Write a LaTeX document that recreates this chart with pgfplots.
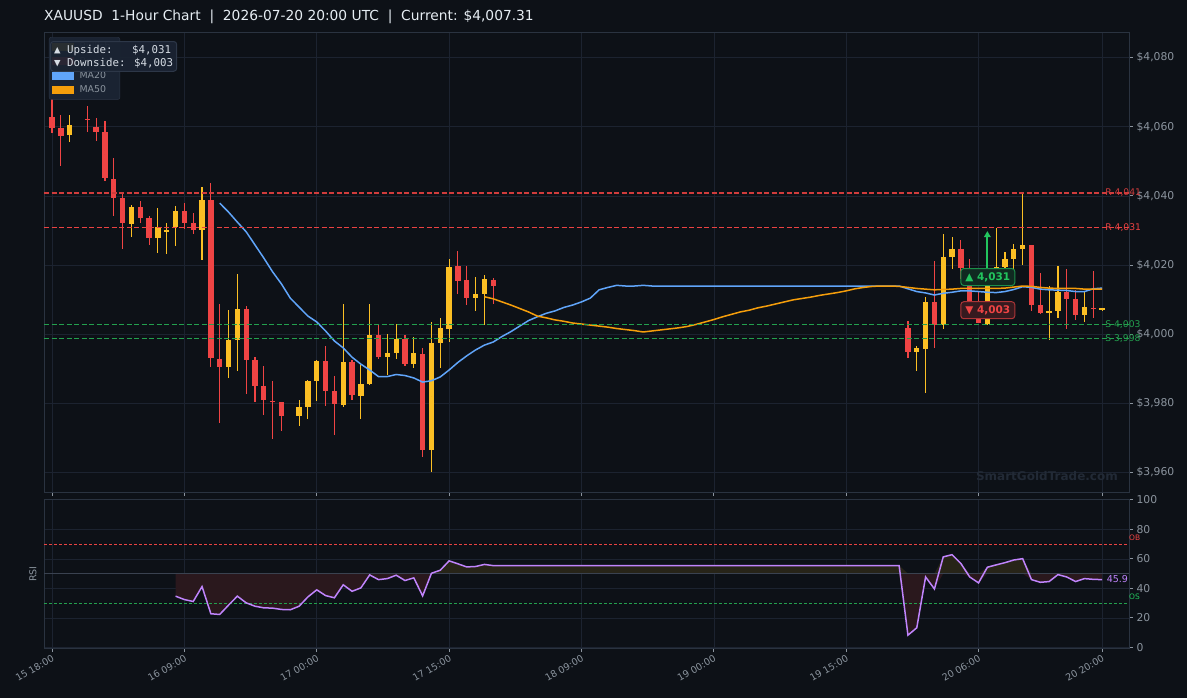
\documentclass[border=0pt]{standalone}
\usepackage{pgfplots}
\pgfplotsset{compat=1.18}
\usepackage{pgfplotstable}
\usetikzlibrary{arrows.meta}
\usepackage{fontspec}
\setmainfont{DejaVu Sans}
\newfontfamily\monofont{DejaVu Sans Mono}
\newcommand{\fs}[1]{\fontsize{#1bp}{#1bp}\selectfont}
\definecolor{bg}{HTML}{0D1117}
\definecolor{gridc}{HTML}{1C2330}
\definecolor{frame}{HTML}{2A3340}
\definecolor{midc}{HTML}{3A4250}
\definecolor{tickc}{HTML}{8B949E}
\definecolor{titlec}{HTML}{E6EDF3}
\definecolor{boxtext}{HTML}{D6DCE4}
\definecolor{bullc}{HTML}{FBBF24}
\definecolor{bearc}{HTML}{EF4444}
\definecolor{ma20c}{HTML}{60A5FA}
\definecolor{ma50c}{HTML}{F59E0B}
\definecolor{rsic}{HTML}{C084FC}
\definecolor{greenc}{HTML}{22C55E}
\definecolor{rline1}{HTML}{D03C3C}
\definecolor{rline2}{HTML}{EB4242}
\definecolor{sline}{HTML}{23A04E}
\definecolor{legbg}{HTML}{1A2332}
\definecolor{legbd}{HTML}{2D3748}
\definecolor{wmark}{HTML}{222A36}
\colorlet{redfill}{bearc!13!bg}
\colorlet{yelfill}{bullc!11!bg}

\pgfplotstableread{
i o h l c
2 4057.7 4063.4 4055.7 4060.5
9 4031.9 4037.4 4028.2 4036.9
12 4027.9 4036.5 4023.6 4031.1
13 4029.8 4032.2 4023.3 4030.0
14 4031.1 4037.1 4025.6 4035.6
17 4030.1 4042.7 4021.4 4038.8
20 3990.6 4007.0 3987.4 3998.3
21 3998.3 4017.4 3989.4 4007.3
28 3976.4 3981.0 3973.5 3978.9
29 3978.9 3986.7 3975.5 3986.4
30 3986.4 3992.5 3980.7 3992.2
33 3979.5 4008.7 3979.0 3991.9
35 3982.1 3991.1 3975.4 3985.6
36 3985.6 4008.7 3985.3 3999.7
38 3993.4 4000.0 3988.2 3994.5
39 3994.5 4002.9 3992.8 3998.6
41 3991.3 3999.2 3990.2 3994.5
43 3966.5 4003.5 3960.1 3997.4
44 3997.4 4004.7 3990.2 4001.8
45 4001.5 4021.7 3997.7 4019.4
48 4010.4 4016.5 4006.7 4011.6
49 4011.6 4017.1 4002.6 4015.9
98 3994.8 3996.6 3989.3 3996.0
99 3995.7 4010.7 3983.0 4009.3
101 4002.6 4029.0 4001.5 4022.3
102 4022.3 4028.1 4018.8 4024.6
106 4002.9 4020.5 4002.5 4018.8
107 4018.8 4030.7 4015.0 4019.4
108 4019.4 4023.7 4017.0 4021.7
109 4021.7 4026.1 4018.8 4024.6
110 4024.6 4040.8 4019.9 4025.8
113 4006.1 4013.9 3998.3 4006.7
114 4006.7 4019.7 4004.7 4012.2
117 4005.5 4012.2 4003.5 4007.8
119 4007.2 4007.5 4006.8 4007.31
}\bull

\pgfplotstableread{
i o h l c
0 4062.8 4068.3 4058.3 4059.7
1 4059.6 4063.4 4048.5 4057.4
4 4062.3 4065.9 4058.6 4062.1
5 4059.9 4062.5 4056.0 4058.6
6 4058.5 4061.7 4044.4 4045.3
7 4044.9 4051.0 4034.2 4039.5
8 4039.5 4040.5 4024.7 4032.2
10 4036.8 4038.5 4032.2 4033.7
11 4033.6 4034.2 4025.9 4027.9
15 4035.6 4037.9 4030.5 4032.2
16 4032.2 4035.1 4029.1 4030.2
18 4038.8 4043.8 3990.6 3993.2
19 3992.8 4008.7 3974.4 3990.6
22 4007.3 4008.1 3982.7 3992.5
23 3992.5 3993.4 3980.4 3985.1
24 3985.1 3990.8 3976.7 3981.0
25 3980.7 3986.4 3969.7 3980.5
26 3980.3 3980.3 3972.0 3976.4
31 3992.2 3996.6 3979.2 3983.5
32 3983.5 3987.9 3970.8 3979.9
34 3991.9 3992.5 3980.9 3982.4
37 3999.7 4002.9 3992.8 3993.4
40 3998.6 3999.7 3990.8 3991.3
42 3994.2 3996.0 3964.4 3966.5
46 4019.7 4024.1 4011.6 4015.4
47 4015.6 4019.7 4008.4 4010.4
50 4015.6 4016.2 4008.7 4013.9
97 4001.8 4003.8 3993.1 3994.8
100 4009.3 4021.2 3996.0 4002.6
103 4024.6 4027.2 4016.0 4019.1
104 4019.0 4021.7 4005.0 4006.5
105 4006.5 4012.2 4003.2 4003.3
111 4025.8 4025.8 4006.7 4008.4
112 4008.4 4017.7 4005.8 4006.1
115 4012.2 4018.8 4001.5 4010.1
116 4010.1 4012.8 4004.1 4005.5
118 4007.6 4018.2 4004.7 4007.4
}\bear

\pgfplotstableread{
i v
19 4037.9
20 4035.3
21 4032.4
22 4029.6
23 4025.8
24 4022.0
25 4018.0
26 4014.5
27 4010.4
28 4007.8
29 4005.2
30 4003.5
31 4000.9
32 3998.0
33 3996.0
34 3993.3
35 3991.3
36 3989.6
37 3987.7
38 3987.7
39 3988.3
40 3988.0
41 3987.3
42 3986.1
43 3986.5
44 3987.6
45 3989.6
46 3991.8
47 3993.7
48 3995.4
49 3996.8
50 3997.7
51 3999.3
52 4000.7
53 4002.3
54 4003.9
55 4005.0
56 4006.0
57 4006.7
58 4007.7
59 4008.4
60 4009.3
61 4010.4
62 4012.8
63 4013.5
64 4014.1
65 4013.9
66 4013.9
67 4014.1
68 4013.9
96 4013.9
97 4013.1
98 4012.3
99 4011.9
100 4011.3
101 4011.8
102 4012.1
103 4012.5
104 4012.5
105 4012.3
106 4012.1
107 4012.0
108 4012.3
109 4012.9
110 4013.7
111 4013.5
112 4013.0
113 4012.8
114 4012.7
115 4012.6
116 4012.3
117 4012.3
118 4013.1
119 4013.3
}\mafast

\pgfplotstableread{
i v
49 4010.8
50 4010.2
51 4009.3
52 4008.4
53 4007.4
54 4006.4
55 4005.2
56 4004.7
57 4004.1
58 4003.7
59 4003.2
60 4002.9
61 4002.6
62 4002.3
63 4002.0
64 4001.6
65 4001.3
66 4001.0
67 4000.6
68 4000.9
69 4001.2
70 4001.5
71 4001.8
72 4002.2
73 4002.8
74 4003.5
75 4004.2
76 4005.0
77 4005.7
78 4006.4
79 4006.9
80 4007.6
81 4008.1
82 4008.7
83 4009.3
84 4009.9
85 4010.3
86 4010.7
87 4011.2
88 4011.6
89 4012.0
90 4012.5
91 4013.1
92 4013.5
93 4013.8
94 4013.9
95 4013.9
96 4013.8
97 4013.5
98 4013.2
99 4013.0
100 4012.8
101 4012.9
102 4013.0
103 4013.2
104 4013.2
105 4013.2
106 4013.2
107 4013.2
108 4013.3
109 4013.6
110 4013.9
111 4013.8
112 4013.5
113 4013.3
114 4013.2
115 4013.2
116 4013.2
117 4013.0
118 4013.0
119 4013.0
}\maslow

\pgfplotstableread{
i r
14 34.7
15 32.4
16 31.1
17 41.2
18 22.8
19 22.3
20 28.6
21 34.7
22 30.2
23 27.9
24 26.8
25 26.6
26 25.7
27 25.5
28 27.9
29 34.2
30 39.0
31 35.1
32 33.6
33 42.4
34 38.0
35 40.3
36 49.1
37 45.9
38 46.6
39 48.9
40 45.3
41 47.1
42 34.9
43 50.2
44 52.3
45 58.6
46 56.6
47 54.5
48 54.8
49 56.2
50 55.4
96 55.4
97 8.3
98 13.3
99 47.7
100 39.6
101 61.3
102 62.8
103 56.8
104 47.7
105 43.7
106 54.3
107 55.9
108 57.4
109 59.2
110 60.1
111 45.9
112 44.1
113 44.6
114 49.3
115 47.7
116 44.6
117 46.6
118 46.1
119 45.9
}\rsitab

\pgfplotsset{
  candle/.style 2 args={only marks, mark=none, mark size=0pt,
    mark options={draw=none, fill=none}, forget plot,
    error bars/.cd, y dir=both, y explicit, error mark=none,
    error bar style={draw=#1, line width=#2}},
}

\begin{document}
\begin{tikzpicture}
\fill[bg] (-44bp,32bp) rectangle (1143bp,-666bp);
\node[anchor=west, inner sep=0, text=titlec, font=\fs{13.8}] at (0bp,15bp)
  {XAUUSD\ \ 1-Hour Chart\ \ |\ \ 2026-07-20 20:00 UTC\ \ |\ \ Current: \$4,007.31};

\begin{axis}[
  at={(0,0)}, anchor=north west,
  scale only axis, width=1085bp, height=460bp,
  xmin=-0.91, xmax=122.05, ymin=3954.3, ymax=4087.4,
  axis background/.style={fill=bg},
  axis line style={draw=frame, line width=0.8bp},
  grid=major, grid style={draw=gridc, line width=0.6bp},
  xtick={0,15,30,45,60,75,90,105,119}, xticklabels={},
  ytick={3960,3980,4000,4020,4040,4060,4080},
  yticklabels={{\$3,960},{\$3,980},{\$4,000},{\$4,020},{\$4,040},{\$4,060},{\$4,080}},
  xtick pos=left, ytick pos=right, yticklabel pos=right,
  tick align=outside, major tick length=4bp,
  tick style={draw=tickc, line width=0.8bp},
  yticklabel style={font=\fs{10.8}, text=tickc},
  clip=false,
  legend cell align=left,
  legend style={at={(0.0046,0.989)}, anchor=north west, fill=legbg, draw=legbd,
    rounded corners=2bp, text=tickc, font=\fs{9.4}, row sep=2bp,
    inner xsep=3bp, inner ysep=3bp,
    /tikz/every odd column/.append style={column sep=4bp}},
]
% wicks
\addplot[candle={bullc}{1.1bp}]
  table[x=i, y expr={(\thisrow{h}+\thisrow{l})/2}, y error expr={(\thisrow{h}-\thisrow{l})/2}] {\bull};
\addplot[candle={bearc}{1.1bp}]
  table[x=i, y expr={(\thisrow{h}+\thisrow{l})/2}, y error expr={(\thisrow{h}-\thisrow{l})/2}] {\bear};
% bodies
\addplot[candle={bullc}{5.3bp}]
  table[x=i, y expr={(\thisrow{o}+\thisrow{c})/2}, y error expr={max(abs(\thisrow{c}-\thisrow{o})/2,0.17)}] {\bull};
\addplot[candle={bearc}{5.3bp}]
  table[x=i, y expr={(\thisrow{o}+\thisrow{c})/2}, y error expr={max(abs(\thisrow{c}-\thisrow{o})/2,0.17)}] {\bear};
% moving averages
\addplot[forget plot, draw=ma20c, line width=1.5bp] table[x=i, y=v] {\mafast};
\addplot[forget plot, draw=ma50c, line width=1.5bp] table[x=i, y=v] {\maslow};
% levels
\addplot[forget plot, draw=rline1, line width=1.3bp, dash pattern=on 5bp off 2.5bp] coordinates {(-0.91,4040.8) (122.05,4040.8)};
\addplot[forget plot, draw=rline2, line width=1.3bp, dash pattern=on 5bp off 2.5bp] coordinates {(-0.91,4030.8) (122.05,4030.8)};
\addplot[forget plot, draw=sline, line width=1.2bp, dash pattern=on 5bp off 2.5bp] coordinates {(-0.91,4002.8) (122.05,4002.8)};
\addplot[forget plot, draw=sline, line width=1.2bp, dash pattern=on 5bp off 2.5bp] coordinates {(-0.91,3998.7) (122.05,3998.7)};
\node[anchor=west, inner sep=0, text=rline1, font=\fs{9.2}] at (axis cs:119.35,4040.8) {R 4,041};
\node[anchor=west, inner sep=0, text=rline2, font=\fs{9.2}] at (axis cs:119.35,4030.8) {R 4,031};
\node[anchor=west, inner sep=0, text=sline, font=\fs{9.2}] at (axis cs:119.35,4002.8) {S 4,003};
\node[anchor=west, inner sep=0, text=sline, font=\fs{9.2}] at (axis cs:119.35,3998.7) {S 3,998};
% target annotation
\draw[draw=greenc, line width=2bp, -{Triangle[width=6.5bp,length=6bp]}] (axis cs:106,4019.2) -- (axis cs:106,4029.8);
\node[fill=greenc!14!bg, draw=greenc!70!bg, line width=1bp, rounded corners=3bp, text=greenc,
  font=\bfseries\fs{10.5}, minimum width=54bp, minimum height=17bp, inner sep=1.5bp]
  at (axis cs:106.05,4016.5) {▲ 4,031};
\node[fill=bearc!18!bg, draw=bearc!70!bg, line width=1bp, rounded corners=3bp, text=bearc,
  font=\bfseries\fs{10.5}, minimum width=54bp, minimum height=17bp, inner sep=1.5bp]
  at (axis cs:106.05,4006.9) {▼ 4,003};
% legend
\addlegendimage{legend image code/.code={\fill[bullc, sharp corners] (0bp,-3.5bp) rectangle (21bp,3.5bp);}}
\addlegendentry{Bullish}
\addlegendimage{legend image code/.code={\fill[bearc, sharp corners] (0bp,-3.5bp) rectangle (21bp,3.5bp);}}
\addlegendentry{Bearish}
\addlegendimage{legend image code/.code={\fill[ma20c, sharp corners] (0bp,-3.5bp) rectangle (21bp,3.5bp);}}
\addlegendentry{MA20}
\addlegendimage{legend image code/.code={\fill[ma50c, sharp corners] (0bp,-3.5bp) rectangle (21bp,3.5bp);}}
\addlegendentry{MA50}
\end{axis}

% watermark
\node[anchor=east, inner sep=0, text=wmark, font=\bfseries\fs{12}] at (1074bp,-444bp) {SmartGoldTrade.com};

% upside / downside box
\node[anchor=north west, fill=legbg, fill opacity=0.93, text opacity=1, draw=legbd, line width=1bp,
  rounded corners=3bp, text=boxtext, align=left, inner xsep=3.5bp, inner ysep=3.5bp,
  font=\monofont\fontsize{10.8bp}{13bp}\selectfont] at (6bp,-9bp)
  {▲ Upside:~~~\$4,031\\▼ Downside: \$4,003};

\begin{axis}[
  at={(0,-467bp)}, anchor=north west,
  scale only axis, width=1085bp, height=149bp,
  xmin=-0.91, xmax=122.05, ymin=-0.4, ymax=100.5,
  axis background/.style={fill=bg},
  axis line style={draw=frame, line width=0.8bp},
  grid=major, grid style={draw=gridc, line width=0.6bp},
  xtick={0,15,30,45,60,75,90,105,119},
  xticklabels={15 18:00,16 09:00,17 00:00,17 15:00,18 09:00,19 00:00,19 15:00,20 06:00,20 20:00},
  xticklabel style={rotate=30, anchor=north east, font=\fs{9.5}, text=tickc, inner sep=1.5bp},
  ytick={0,20,40,60,80,100},
  /pgf/number format/assume math mode=true,
  xtick pos=left, ytick pos=right, yticklabel pos=right,
  tick align=outside, major tick length=4bp,
  tick style={draw=tickc, line width=0.8bp},
  yticklabel style={font=\fs{10.8}, text=tickc},
  clip=false,
]
% RSI shading between the curve and the 50 line
\addplot[fill=redfill, draw=none, forget plot]
  table[x=i, y expr={min(\thisrow{r},50)}] {\rsitab} -- (axis cs:119,50) -- (axis cs:14,50) -- cycle;
\addplot[fill=yelfill, draw=none, forget plot]
  table[x=i, y expr={max(\thisrow{r},50)}] {\rsitab} -- (axis cs:119,50) -- (axis cs:14,50) -- cycle;
\addplot[forget plot, draw=rline2, line width=0.9bp, dash pattern=on 3bp off 2bp] coordinates {(-0.91,70) (122.05,70)};
\addplot[forget plot, draw=sline, line width=0.9bp, dash pattern=on 3bp off 2bp] coordinates {(-0.91,30) (122.05,30)};
\addplot[forget plot, draw=midc, line width=0.8bp] coordinates {(-0.91,50) (122.05,50)};
\addplot[forget plot, draw=rsic, line width=1.5bp] table[x=i, y=r] {\rsitab};
\node[anchor=west, inner sep=0, text=bearc, font=\fs{7.5}] at (axis cs:122.05,74) {OB};
\node[anchor=west, inner sep=0, text=greenc, font=\fs{7.5}] at (axis cs:122.05,34) {OS};
\node[anchor=east, inner sep=0.8bp, text=rsic, font=\fs{9.5}] at (axis cs:122.05,46.3) {45.9};
\end{axis}
\node[rotate=90, text=tickc, font=\fs{9.5}, inner sep=0] at (-11bp,-542bp) {RSI};
\pgfresetboundingbox
\useasboundingbox (-44bp,32bp) rectangle (1143bp,-666bp);
\end{tikzpicture}
\end{document}
